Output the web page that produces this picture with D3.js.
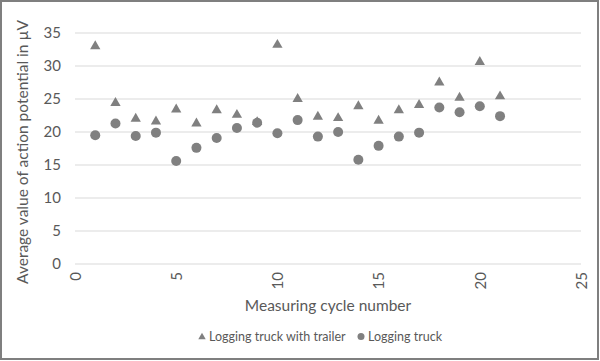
<!DOCTYPE html>
<html>
<head>
<meta charset="utf-8">
<script src="https://cdn.jsdelivr.net/npm/d3@7"></script>
<style>
  body { margin: 0; background: white; }
  text { font-family: Lato, "Open Sans", sans-serif; fill: #595959; }
</style>
</head>
<body>
<div id="myVis"></div>
<script>
// measuring cycles 1..21
const cycles = d3.range(1, 22)
const withTrailer = [33.0, 24.4, 22.0, 21.6, 23.4, 21.3, 23.3, 22.6, 21.5, 33.2, 25.0,
                     22.3, 22.1, 23.9, 21.7, 23.3, 24.1, 27.5, 25.2, 30.6, 25.4]
const truckOnly = [19.5, 21.3, 19.4, 19.9, 15.6, 17.6, 19.1, 20.6, 21.4, 19.8, 21.8,
                   19.3, 20.0, 15.8, 17.9, 19.3, 19.9, 23.7, 23.0, 23.9, 22.4]
const xTicks = [0, 5, 10, 15, 20, 25]
const yTicks = [0, 5, 10, 15, 20, 25, 30, 35]
const seriesNames = ["Logging truck with trailer", "Logging truck"]

const W = 600, H = 361
const margin = {top: 33, right: 19, bottom: 97, left: 75}
const markColor = "#808080"

const svg = d3.select("#myVis")
    .append("svg")
        .attr("width", W)
        .attr("height", H)

// outer frame
svg.append("rect")
    .attr("x", 1).attr("y", 1)
    .attr("width", W - 3).attr("height", H - 3)
    .attr("fill", "white")
    .attr("stroke", "#7f7f7f")
    .attr("stroke-width", 2)

const x = d3.scaleLinear().domain([0, 25]).range([margin.left, W - margin.right])
const y = d3.scaleLinear().domain([0, 35]).range([H - margin.bottom, margin.top])

// gridlines
svg.append("g")
    .selectAll("line")
    .data(yTicks)
    .enter()
    .append("line")
        .attr("x1", x(0)).attr("x2", x(25))
        .attr("y1", d => y(d)).attr("y2", d => y(d))
        .attr("stroke", "#d9d9d9")
        .attr("stroke-width", 1.2)

// y axis labels
const yAxis = svg.append("g")
    .attr("transform", "translate(" + (x(0) - 14) + ",0)")
    .call(d3.axisLeft(y).tickValues(yTicks).tickSize(0).tickPadding(0))
yAxis.select(".domain").remove()
yAxis.selectAll("text")
    .style("font-size", "15px")
    .attr("fill", "#595959")

// x axis labels, rotated like the original
const xAxis = svg.append("g")
    .attr("transform", "translate(0," + (y(0) + 8) + ")")
    .call(d3.axisBottom(x).tickValues(xTicks).tickSize(0).tickPadding(0))
xAxis.select(".domain").remove()
xAxis.selectAll("text")
    .style("font-size", "15px")
    .attr("fill", "#595959")
    .attr("text-anchor", "end")
    .attr("dy", "0.35em")
    .attr("y", 0)
    .attr("transform", "rotate(-90)")

// axis titles
svg.append("text")
    .attr("x", (x(0) + x(25)) / 2)
    .attr("y", 311)
    .attr("text-anchor", "middle")
    .style("font-size", "15.5px")
    .text("Measuring cycle number")

svg.append("text")
    .attr("transform", "translate(28," + 152 + ") rotate(-90)")
    .attr("text-anchor", "middle")
    .style("font-size", "15.5px")
    .text("Average value of action potential in µV")

// triangles first, circles on top
const tri = d3.symbol().type(d3.symbolTriangle).size(46)
svg.append("g")
    .selectAll("path")
    .data(withTrailer)
    .enter()
    .append("path")
        .attr("d", tri)
        .attr("transform", (d, i) => "translate(" + x(cycles[i]) + "," + y(d) + ")")
        .attr("fill", markColor)

svg.append("g")
    .selectAll("circle")
    .data(truckOnly)
    .enter()
    .append("circle")
        .attr("cx", (d, i) => x(cycles[i]))
        .attr("cy", d => y(d))
        .attr("r", 5)
        .attr("fill", markColor)

// legend
const legend = svg.append("g").attr("transform", "translate(0,341)")
legend.append("path")
    .attr("d", d3.symbol().type(d3.symbolTriangle).size(24))
    .attr("transform", "translate(202,-4)")
    .attr("fill", markColor)
legend.append("text")
    .attr("x", 209)
    .style("font-size", "12.5px")
    .text(seriesNames[0])
legend.append("circle")
    .attr("cx", 361).attr("cy", -4.5).attr("r", 3.5)
    .attr("fill", markColor)
legend.append("text")
    .attr("x", 368)
    .style("font-size", "12.5px")
    .text(seriesNames[1])
</script>
</body>
</html>
